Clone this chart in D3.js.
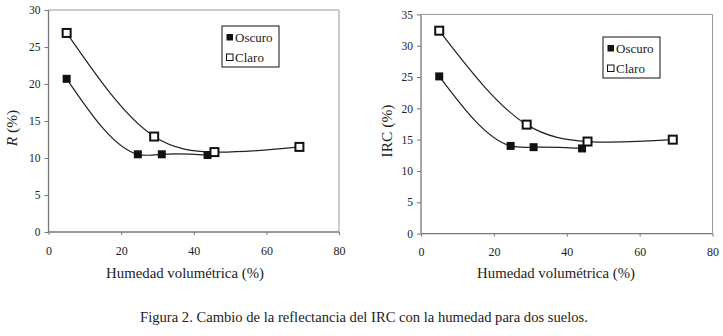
<!DOCTYPE html>
<html>
<head>
<meta charset="utf-8">
<script src="https://cdn.jsdelivr.net/npm/d3@7"></script>
<style>
  body { margin: 0; background: #fff; }
  text { font-family: "Liberation Serif", serif; fill: #222; }
</style>
</head>
<body>
<div id="chart"></div>
<script>
// Données
const xTicks = [0, 20, 40, 60, 80];

const rOscuroX = [5, 24.6, 31.2, 43.8];
const rOscuroY = [20.7, 10.5, 10.5, 10.4];
const rClaroX = [5, 29.1, 45.7, 69.1];
const rClaroY = [26.9, 12.9, 10.8, 11.5];
const rTicks = [0, 5, 10, 15, 20, 25, 30];

const irvOscuroX = [5, 24.6, 30.9, 44.2];
const irvOscuroY = [25.1, 14.0, 13.8, 13.6];
const irvClaroX = [5, 29, 45.7, 69.1];
const irvClaroY = [32.4, 17.4, 14.7, 15.0];
const irvTicks = [0, 5, 10, 15, 20, 25, 30, 35];

const width = 723, height = 336;

const svg = d3.select("#chart")
    .append("svg")
    .attr("width", width)
    .attr("height", height);

// Courbe lissée : spline cubique naturelle y(x), tracée en segments de Bézier
function curveNaturalX(context) {
    let xs, ys;
    return {
        areaStart() {}, areaEnd() {},
        lineStart() { xs = []; ys = []; },
        point(x, y) { xs.push(+x); ys.push(+y); },
        lineEnd() {
            const n = xs.length;
            const M = new Array(n).fill(0);
            if (n > 2) {
                const a = [], b = [], c = [], d = [];
                for (let i = 1; i < n - 1; i++) {
                    const h0 = xs[i] - xs[i - 1], h1 = xs[i + 1] - xs[i];
                    a.push(h0); b.push(2 * (h0 + h1)); c.push(h1);
                    d.push(6 * ((ys[i + 1] - ys[i]) / h1 - (ys[i] - ys[i - 1]) / h0));
                }
                const m = b.length;
                for (let i = 1; i < m; i++) {
                    const w = a[i] / b[i - 1];
                    b[i] -= w * c[i - 1];
                    d[i] -= w * d[i - 1];
                }
                M[m] = d[m - 1] / b[m - 1];
                for (let i = m - 2; i >= 0; i--) M[i + 1] = (d[i] - c[i] * M[i + 2]) / b[i];
            }
            context.moveTo(xs[0], ys[0]);
            for (let i = 0; i < n - 1; i++) {
                const h = xs[i + 1] - xs[i];
                const s = (ys[i + 1] - ys[i]) / h;
                const m0 = s - h * (2 * M[i] + M[i + 1]) / 6;
                const m1 = s + h * (M[i] + 2 * M[i + 1]) / 6;
                context.bezierCurveTo(xs[i] + h / 3, ys[i] + m0 * h / 3,
                    xs[i + 1] - h / 3, ys[i + 1] - m1 * h / 3, xs[i + 1], ys[i + 1]);
            }
        }
    };
}

function drawPanel(p) {
    const x = d3.scaleLinear().domain([0, 80]).range([p.left, p.right]);
    const y = d3.scaleLinear().domain([0, p.ymax]).range([p.bottom, p.top]);
    const g = svg.append("g");

    // cadre de la zone de tracé
    g.append("path")
        .attr("d", `M${p.left},${p.top}H${p.right}V${p.bottom}`)
        .attr("fill", "none")
        .attr("stroke", "#999")
        .attr("stroke-width", 1);

    const yAxis = g.append("g")
        .attr("transform", `translate(${p.left},0)`)
        .call(d3.axisLeft(y).tickValues(p.yTicks).tickSize(4).tickPadding(4));
    const xAxis = g.append("g")
        .attr("transform", `translate(0,${p.bottom})`)
        .call(d3.axisBottom(x).tickValues(xTicks).tickSize(3).tickPadding(11));
    [xAxis, yAxis].forEach(a => {
        a.select(".domain").attr("stroke", "#777").attr("stroke-width", 1.3);
        a.selectAll(".tick line").attr("stroke", "#777");
        a.selectAll("text").attr("font-size", 12).attr("fill", "#333")
            .attr("font-family", "Liberation Serif, serif");
    });
    yAxis.selectAll("text").attr("font-family", "Liberation Sans, sans-serif").attr("font-size", 11.5);
    yAxis.select(".domain").attr("d", `M0,${p.bottom}V${p.top}`);
    xAxis.select(".domain").attr("d", `M${p.left},0H${p.right}`);

    const line = d3.line()
        .x(d => x(d[0]))
        .y(d => y(d[1]))
        .curve(curveNaturalX);

    p.series.forEach(s => {
        const pts = s.xs.map((v, i) => [v, s.ys[i]]);
        g.append("path")
            .datum(pts)
            .attr("d", line)
            .attr("fill", "none")
            .attr("stroke", "#222")
            .attr("stroke-width", 1.2);
    });
    p.series.forEach(s => {
        const pts = s.xs.map((v, i) => [v, s.ys[i]]);
        g.selectAll(null)
            .data(pts)
            .enter().append("rect")
            .attr("x", d => x(d[0]) - 4)
            .attr("y", d => y(d[1]) - 4)
            .attr("width", 8)
            .attr("height", 8)
            .attr("fill", s.filled ? "#111" : "#fff")
            .attr("stroke", "#111")
            .attr("stroke-width", s.filled ? 0 : 2);
    });

    // légende
    const lg = g.append("g").attr("transform", `translate(${p.legend[0]},${p.legend[1]})`);
    lg.append("rect")
        .attr("width", 57).attr("height", 41)
        .attr("fill", "#fff").attr("stroke", "#111").attr("stroke-width", 1);
    p.series.forEach((s, i) => {
        lg.append("rect")
            .attr("x", 4.5).attr("y", 8 + i * 20)
            .attr("width", 6.5).attr("height", 6.5)
            .attr("fill", s.filled ? "#111" : "#fff")
            .attr("stroke", "#111")
            .attr("stroke-width", s.filled ? 0 : 1);
        lg.append("text")
            .attr("x", 13).attr("y", 15.5 + i * 20)
            .attr("font-size", 13)
            .text(s.name);
    });

    // titres des axes
    g.append("text")
        .attr("x", p.xLabelX).attr("y", 278)
        .attr("text-anchor", "middle")
        .attr("font-size", 14.8)
        .text("Humedad volumétrica (%)");
    const yl = g.append("text")
        .attr("transform", `translate(${p.yLabelX},${(p.top + p.bottom) / 2 + 7}) rotate(-90)`)
        .attr("text-anchor", "middle")
        .attr("font-size", 15.5);
    p.yLabel(yl);
}

drawPanel({
    left: 48.5, right: 339, top: 10, bottom: 232, ymax: 30, yTicks: rTicks,
    legend: [222, 26], xLabelX: 185, yLabelX: 17,
    yLabel: t => { t.append("tspan").attr("font-style", "italic").text("R"); t.append("tspan").text(" (%)"); },
    series: [
        { name: "Oscuro", xs: rOscuroX, ys: rOscuroY, filled: true },
        { name: "Claro", xs: rClaroX, ys: rClaroY, filled: false }
    ]
});

drawPanel({
    left: 421, right: 712.5, top: 14.4, bottom: 233.6, ymax: 35, yTicks: irvTicks,
    legend: [603, 37], xLabelX: 556, yLabelX: 392,
    yLabel: t => t.text("IRC (%)"),
    series: [
        { name: "Oscuro", xs: irvOscuroX, ys: irvOscuroY, filled: true },
        { name: "Claro", xs: irvClaroX, ys: irvClaroY, filled: false }
    ]
});

svg.append("text")
    .attr("x", 364).attr("y", 322)
    .attr("text-anchor", "middle")
    .attr("font-size", 14.6)
    .text("Figura 2. Cambio de la reflectancia del IRC con la humedad para dos suelos.");
</script>
</body>
</html>
